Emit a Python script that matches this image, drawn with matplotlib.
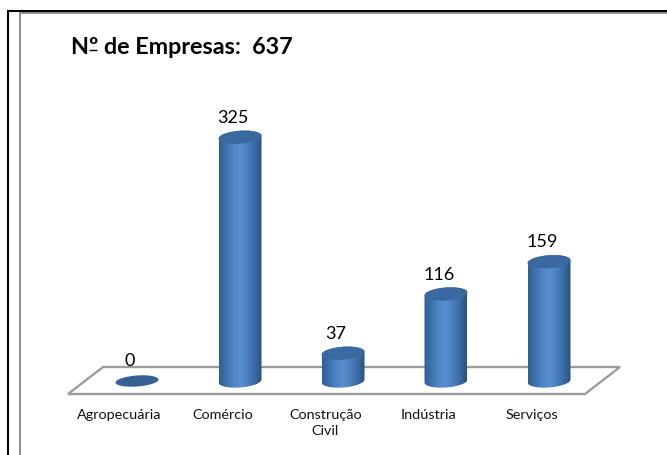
import numpy as np
import matplotlib
matplotlib.use('Agg')
import matplotlib.pyplot as plt
from matplotlib.colors import LinearSegmentedColormap
from matplotlib.patches import PathPatch, Polygon
from matplotlib.path import Path

categories = ['Agropecuária', 'Comércio', 'Construção\nCivil', 'Indústria', 'Serviços']
values = [0, 325, 37, 116, 159]
title = 'Nº de Empresas:  637'

W, H = 667, 455
# pixel layout of the plot
x0_px, dx_px = 137.0, 103.0
y0_px, py_unit = 381.0, 0.75

plt.rcParams['font.family'] = ['Lato', 'DejaVu Sans']

fig = plt.figure(figsize=(W / 100, H / 100), dpi=100)
ax = fig.add_axes([0, 0, 1, 1])
ax.axis('off')


def px(x, y):
    # pixel position -> data position, for the frame and the floor
    return (x - x0_px) / dx_px, (y0_px - y) / py_unit


def frame(xs, ys, col, lw):
    dx, dy = px(np.array(xs, dtype=float), np.array(ys, dtype=float))
    ax.plot(dx, dy, color=col, lw=lw, solid_capstyle='butt', solid_joinstyle='miter')


frame([8, 8, 667], [455, 10.8, 10.8], 'black', 1.5)
frame([20.3, 20.3, 667], [455, 12.6, 12.6], '#8c8c8c', 1.4)

# floor of the 3d chart
floor = [px(68, 394), px(103, 367), px(620, 367), px(585, 394)]
ax.add_patch(Polygon(floor, closed=True, fill=False, ec='#9c9c9c', lw=1.7, zorder=1))

cyl = LinearSegmentedColormap.from_list(
    'cyl', ['#2f5f94', '#3d72ad', '#4f86c6', '#5a8fd0', '#4a80bf', '#3a6ca5', '#28527f'])
grad = np.linspace(0, 1, 128).reshape(1, -1)
bar_w = 43.0 / dx_px
ell_h = 13.0 / py_unit
tilt = 3.0 / py_unit / bar_w  # ellipses lean up to the right


def ring(i, v, t, h=ell_h):
    x = bar_w / 2 * np.cos(t)
    return i + x, v + h / 2 * np.sin(t) + tilt * x


for i, v in enumerate(values):
    left, right = i - bar_w / 2, i + bar_w / 2
    t_all = np.linspace(0, 2 * np.pi, 80)
    if v == 0:
        ex, ey = ring(i, v, t_all, ell_h * 0.85)
        ax.add_patch(Polygon(np.column_stack([ex, ey]), closed=True, fc='#376092', ec='none', zorder=3))
    else:
        # body = front half of the bottom ring, then back over the top ring
        bx, by = ring(i, 0, np.linspace(np.pi, 2 * np.pi, 40))
        tx_, ty_ = ring(i, v, np.linspace(0, np.pi, 40))
        verts = np.column_stack([np.r_[bx, tx_], np.r_[by, ty_]])
        path = Path(np.vstack([verts, verts[0]]), closed=True)
        im = ax.imshow(grad, cmap=cyl, extent=[left, right, -2 * ell_h, v + 2 * ell_h],
                       aspect='auto', zorder=3)
        im.set_clip_path(PathPatch(path, transform=ax.transData))
        ex, ey = ring(i, v, t_all)
        ax.add_patch(Polygon(np.column_stack([ex, ey]), closed=True, fc='#39699f', ec='none', zorder=4))
    ax.text(i - 7 / dx_px, v + 19.5 / py_unit, str(v), ha='center', va='center', fontsize=13,
            color='black', zorder=5)
    ax.text(i - 17.5 / dx_px, -28 / py_unit, categories[i], ha='center', va='top', fontsize=10.4,
            color='#111111', linespacing=1.4)

ax.set_xlim(-x0_px / dx_px, (W - x0_px) / dx_px)
ax.set_ylim((y0_px - H) / py_unit, y0_px / py_unit)

tx, ty = px(71, 47)
ax.text(tx, ty, title, fontsize=16.8, fontweight='bold', ha='left', va='center', color='black')
# underline below the ordinal sign
frame([88.5, 96.5], [50, 50], 'black', 1.0)

fig.savefig('out.png', dpi=100)
